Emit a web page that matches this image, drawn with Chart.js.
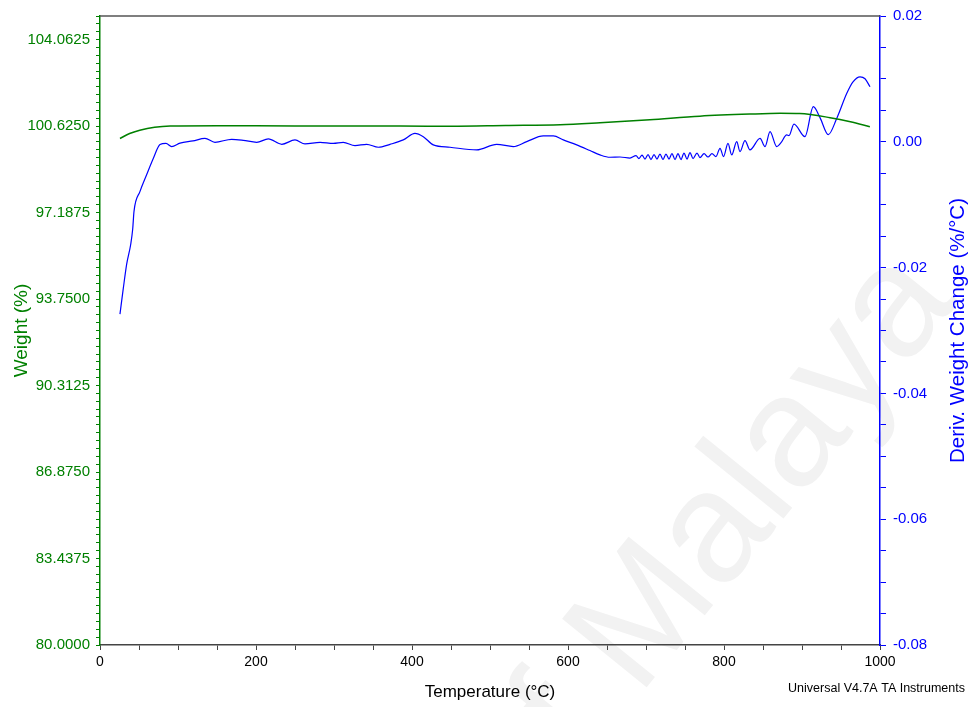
<!DOCTYPE html>
<html>
<head>
<meta charset="utf-8">
<script src="https://cdn.jsdelivr.net/npm/chart.js@4.4.1/dist/chart.umd.min.js"></script>
<style>
  html, body { margin: 0; padding: 0; background: #fff; }
</style>
</head>
<body>
<canvas id="tgaChart" width="971" height="707"></canvas>
<script>
// weight curve (green, left axis)
const weightTemps = [25.6, 38, 51, 70, 90, 150, 250, 350, 420, 450, 520, 590, 641, 705, 769, 833, 872, 897, 936, 962, 987];
const weightValues = [100.13, 100.33, 100.46, 100.58, 100.63, 100.64, 100.63, 100.63, 100.62, 100.62, 100.65, 100.68, 100.76, 100.88, 101.02, 101.10, 101.13, 101.12, 100.96, 100.80, 100.60];

// derivative curve (blue, right axis)
const derivTemps = [
  25.6, 29.9, 34.2, 39.4, 41.9, 43.6, 51.3, 59.9, 68.3, 76.9,
  84.6, 91.9, 102.6, 119.2, 134.6, 147.4, 168.8, 183.7, 200.9, 215.8,
  233.0, 250.0, 262.8, 282.1, 299.1, 311.9, 326.9, 341.9, 356.8, 371.8,
  388.8, 403.8, 414.5, 427.3, 448.7, 482.9, 508.6, 529.9, 547.1, 568.3,
  581.2, 594.0, 611.2, 628.2, 641.0, 653.8, 666.7, 679.5, 687.2, 691.0,
  694.9, 698.7, 702.6, 706.4, 710.3, 714.1, 717.9, 721.8, 725.6, 729.5,
  733.3, 737.2, 741.0, 744.9, 748.7, 752.6, 756.4, 760.3, 765.4, 769.2,
  774.4, 779.5, 784.6, 789.7, 794.9, 799.4, 805.1, 809.9, 816.3, 820.5,
  826.9, 833.3, 846.2, 852.6, 859.0, 867.6, 873.1, 880.4, 883.3, 889.7,
  903.8, 914.5, 923.1, 933.7, 944.5, 957.3, 965.4, 974.4, 980.8, 987.2
];
const derivValues = [
  -0.02739, -0.02327, -0.01946, -0.01629, -0.01391, -0.01106, -0.00789, -0.00520, -0.00266, -0.00044,
  -0.00024, -0.00076, -0.00021, 0.00014, 0.00055, -0.00008, 0.00040, 0.00024, -0.00008, 0.00046,
  -0.00040, 0.00030, -0.00033, -0.00008, -0.00024, -0.00008, -0.00060, -0.00040, -0.00087, -0.00040,
  0.00030, 0.00135, 0.00082, -0.00049, -0.00087, -0.00128, -0.00040, -0.00076, 0.00003, 0.00093,
  0.00093, 0.00030, -0.00049, -0.00139, -0.00208, -0.00246, -0.00242, -0.00258, -0.00219, -0.00266,
  -0.00211, -0.00274, -0.00203, -0.00282, -0.00203, -0.00274, -0.00195, -0.00282, -0.00195, -0.00274,
  -0.00187, -0.00282, -0.00187, -0.00282, -0.00179, -0.00274, -0.00171, -0.00266, -0.00179, -0.00250,
  -0.00187, -0.00242, -0.00187, -0.00235, -0.00103, -0.00235, -0.00024, -0.00208, 0.00003, -0.00155,
  0.00019, -0.00128, 0.00055, -0.00076, 0.00162, -0.00076, -0.00013, 0.00109, 0.00098, 0.00281,
  0.00082, 0.00558, 0.00384, 0.00114, 0.00372, 0.00769, 0.00954, 0.01033, 0.01002, 0.00875
];

const weightTickLabels = ['80.0000', '83.4375', '86.8750', '90.3125', '93.7500', '97.1875', '100.6250', '104.0625'];
const derivTickLabels = ['-0.08', '-0.06', '-0.04', '-0.02', '0.00', '0.02'];
const tempTickLabels = ['0', '200', '400', '600', '800', '1000'];

const FONT = "'Liberation Sans', Arial, sans-serif";

function majorLabel(value, start, step, labels) {
  const k = (value - start) / step;
  const r = Math.round(k);
  if (Math.abs(k - r) < 1e-6 && labels[r] !== undefined) return labels[r];
  return '';
}

const extras = {
  id: 'extras',
  beforeDraw(chart) {
    // faint watermark behind everything
    const ctx = chart.ctx;
    ctx.save();
    ctx.translate(765, 472);
    ctx.rotate(-51 * Math.PI / 180);
    ctx.font = '158px ' + FONT;
    ctx.fillStyle = '#f2f2f2';
    ctx.textAlign = 'center';
    ctx.textBaseline = 'middle';
    ctx.fillText('Malaya', 0, 0);
    ctx.textAlign = 'right';
    ctx.fillText('of', -300, 0);
    ctx.restore();
  },
  afterDraw(chart) {
    const {ctx, chartArea} = chart;
    ctx.save();
    // top frame line
    ctx.strokeStyle = '#555';
    ctx.lineWidth = 1.5;
    ctx.beginPath();
    ctx.moveTo(chartArea.left, chartArea.top);
    ctx.lineTo(chartArea.right, chartArea.top);
    ctx.stroke();
    // right axis title, reads bottom to top
    ctx.translate(958, (chartArea.top + chartArea.bottom) / 2);
    ctx.rotate(-Math.PI / 2);
    ctx.fillStyle = '#0000ff';
    ctx.font = '20.5px ' + FONT;
    ctx.textAlign = 'center';
    ctx.textBaseline = 'middle';
    ctx.fillText('Deriv. Weight Change (%/°C)', 0, 0);
    ctx.restore();
    ctx.save();
    ctx.fillStyle = '#000';
    ctx.font = '12.5px ' + FONT;
    ctx.textAlign = 'right';
    ctx.textBaseline = 'alphabetic';
    ctx.fillText('Universal V4.7A TA Instruments', 965, 692);
    ctx.restore();
  }
};

const ctx = document.getElementById('tgaChart').getContext('2d');

new Chart(ctx, {
  type: 'line',
  data: {
    datasets: [{
      label: 'Weight (%)',
      data: weightTemps.map((t, i) => ({x: t, y: weightValues[i]})),
      yAxisID: 'yW',
      borderColor: '#008000',
      borderWidth: 1.5,
      pointRadius: 0,
      fill: false,
      cubicInterpolationMode: 'monotone'
    }, {
      label: 'Deriv. Weight Change (%/°C)',
      data: derivTemps.map((t, i) => ({x: t, y: derivValues[i]})),
      yAxisID: 'yD',
      borderColor: '#0000ff',
      borderWidth: 1.2,
      pointRadius: 0,
      fill: false,
      cubicInterpolationMode: 'monotone'
    }]
  },
  options: {
    responsive: false,
    animation: false,
    layout: { padding: { top: 14, left: 0, right: 0, bottom: 0 } },
    plugins: { legend: { display: false }, tooltip: { enabled: false } },
    scales: {
      x: {
        type: 'linear',
        position: 'bottom',
        min: 0,
        max: 1000,
        afterFit: s => { s.height = 62; },
        border: { color: '#444', width: 1.5 },
        grid: { drawOnChartArea: false, tickLength: 5, color: '#444' },
        ticks: {
          stepSize: 50,
          autoSkip: false,
          maxRotation: 0,
          padding: 4,
          color: '#000',
          font: { family: FONT, size: 14 },
          callback: v => majorLabel(v, 0, 200, tempTickLabels)
        },
        title: {
          display: true,
          text: 'Temperature (°C)',
          color: '#000',
          font: { family: FONT, size: 17 },
          padding: { top: 0, bottom: 4 }
        }
      },
      yW: {
        position: 'left',
        min: 80,
        max: 105,
        afterFit: s => { s.width = 100; },
        border: { color: '#008000', width: 1.5 },
        grid: { drawOnChartArea: false, tickLength: 4, color: '#008000' },
        ticks: {
          stepSize: 0.3125,
          autoSkip: false,
          padding: 6,
          color: '#008000',
          font: { family: FONT, size: 15 },
          callback: v => majorLabel(v, 80, 3.4375, weightTickLabels)
        },
        title: {
          display: true,
          text: 'Weight (%)',
          color: '#008000',
          font: { family: FONT, size: 19 },
          padding: { top: 10, bottom: 0 }
        }
      },
      yD: {
        position: 'right',
        min: -0.08,
        max: 0.02,
        afterFit: s => { s.width = 91; },
        border: { color: '#0000ff', width: 1.5 },
        grid: { drawOnChartArea: false, tickLength: 6, color: '#0000ff' },
        ticks: {
          stepSize: 0.005,
          autoSkip: false,
          padding: 7,
          color: '#0000ff',
          font: { family: FONT, size: 15 },
          callback: v => majorLabel(v, -0.08, 0.02, derivTickLabels)
        }
      }
    }
  },
  plugins: [extras]
});
</script>
</body>
</html>
